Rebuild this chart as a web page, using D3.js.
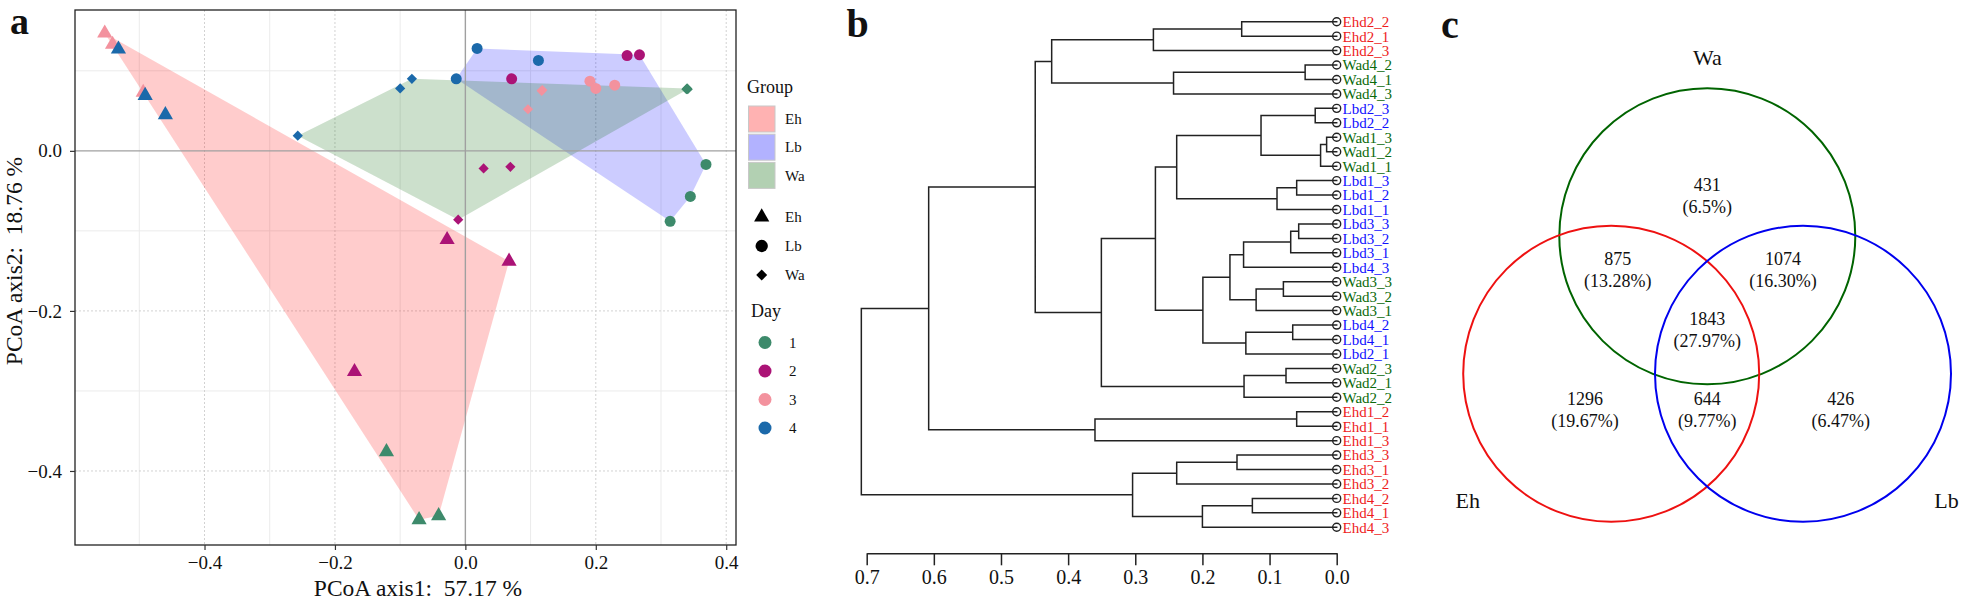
<!DOCTYPE html>
<html><head><meta charset="utf-8">
<script src="https://cdn.jsdelivr.net/npm/d3@7"></script>
<style>
body{margin:0;background:#fff}
svg{display:block}
text{font-family:"Liberation Serif","Times New Roman",serif;fill:#111}
</style>
</head><body>
<svg id="c" width="1966" height="600"></svg>
<script>
// ===================== DATA =====================
// Panel a: PCoA
const groups = ["Eh", "Lb", "Wa"];
const days = ["1", "2", "3", "4"];
const groupColors = ["#ff0000", "#0000ff", "#006400"];
const dayColors = ["#3d8a6b", "#ab1376", "#f3929e", "#1b69aa"];

const pcoaGroup = [
  "Eh","Eh","Eh","Eh","Eh","Eh","Eh","Eh","Eh","Eh","Eh","Eh",
  "Lb","Lb","Lb","Lb","Lb","Lb","Lb","Lb","Lb","Lb","Lb","Lb",
  "Wa","Wa","Wa","Wa","Wa","Wa","Wa","Wa","Wa","Wa","Wa","Wa"
];
const pcoaDay = [
  "1","1","1","2","2","2","3","3","3","4","4","4",
  "1","1","1","2","2","2","3","3","3","4","4","4",
  "1","1","1","2","2","2","3","3","3","4","4","4"
];
const pcoaAxis1 = [
  -0.121, -0.071, -0.041, -0.028, 0.067, -0.170, -0.553, -0.541, -0.494, -0.532, -0.491, -0.460,
  0.369, 0.345, 0.314, 0.071, 0.248, 0.267, 0.191, 0.200, 0.229, 0.018, 0.112, -0.014,
  0.340, 0.341, 0.339, 0.028, 0.069, -0.011, 0.117, 0.096, 0.118, -0.257, -0.100, -0.082
];
const pcoaAxis2 = [
  -0.376, -0.461, -0.456, -0.111, -0.138, -0.276, 0.147, 0.133, 0.073, 0.127, 0.069, 0.045,
  -0.017, -0.057, -0.088, 0.090, 0.119, 0.120, 0.087, 0.078, 0.082, 0.128, 0.113, 0.090,
  0.078, 0.077, 0.077, -0.022, -0.020, -0.086, 0.075, 0.052, 0.076, 0.019, 0.078, 0.090
];
const pcoaXTicks = [-0.4, -0.2, 0.0, 0.2, 0.4];
const pcoaYTicks = [-0.4, -0.2, 0.0];
const pcoaXMinor = [-0.5, -0.3, -0.1, 0.1, 0.3];
const pcoaYMinor = [-0.3, -0.1, 0.1];
const pcoaXLabel = "PCoA axis1:  57.17 %";
const pcoaYLabel = "PCoA axis2:  18.76 %";

// Panel b: dendrogram (leaf order top to bottom) and merges [a, b, height]
const leafOrder = [
  "Ehd2_2","Ehd2_1","Ehd2_3","Wad4_2","Wad4_1","Wad4_3","Lbd2_3","Lbd2_2","Wad1_3",
  "Wad1_2","Wad1_1","Lbd1_3","Lbd1_2","Lbd1_1","Lbd3_3","Lbd3_2","Lbd3_1","Lbd4_3",
  "Wad3_3","Wad3_2","Wad3_1","Lbd4_2","Lbd4_1","Lbd2_1","Wad2_3","Wad2_1","Wad2_2",
  "Ehd1_2","Ehd1_1","Ehd1_3","Ehd3_3","Ehd3_1","Ehd3_2","Ehd4_2","Ehd4_1","Ehd4_3"
];
const merges = [
  ["Ehd2_2","Ehd2_1",0.1415], // m0
  ["m0","Ehd2_3",0.273],      // m1
  ["Wad4_2","Wad4_1",0.047],  // m2
  ["m2","Wad4_3",0.243],      // m3
  ["m1","m3",0.4245],         // m4
  ["Lbd2_3","Lbd2_2",0.032],  // m5
  ["Wad1_3","Wad1_2",0.015],  // m6
  ["m6","Wad1_1",0.024],      // m7
  ["m5","m7",0.1127],         // m8
  ["Lbd1_3","Lbd1_2",0.0596], // m9
  ["m9","Lbd1_1",0.0889],     // m10
  ["m8","m10",0.2383],        // m11
  ["Lbd3_3","Lbd3_2",0.0566], // m12
  ["m12","Lbd3_1",0.0685],    // m13
  ["m13","Lbd4_3",0.1387],    // m14
  ["Wad3_3","Wad3_2",0.0794], // m15
  ["m15","Wad3_1",0.120],     // m16
  ["m14","m16",0.159],        // m17
  ["Lbd4_2","Lbd4_1",0.0655], // m18
  ["m18","Lbd2_1",0.1353],    // m19
  ["m17","m19",0.1993],       // m20
  ["m11","m20",0.270],        // m21
  ["Wad2_3","Wad2_1",0.0755], // m22
  ["m22","Wad2_2",0.138],     // m23
  ["m21","m23",0.3505],       // m24
  ["m4","m24",0.449],         // m25
  ["Ehd1_2","Ehd1_1",0.0596], // m26
  ["m26","Ehd1_3",0.360],     // m27
  ["m25","m27",0.6077],       // m28
  ["Ehd3_3","Ehd3_1",0.1485], // m29
  ["m29","Ehd3_2",0.2383],    // m30
  ["Ehd4_2","Ehd4_1",0.1256], // m31
  ["m31","Ehd4_3",0.200],     // m32
  ["m30","m32",0.304],        // m33
  ["m28","m33",0.708]         // m34 root
];
const dendroTicks = [0.7, 0.6, 0.5, 0.4, 0.3, 0.2, 0.1, 0.0];

// Panel c: Venn
const vennSets = ["Wa", "Eh", "Lb"];
const vennSetColors = ["#006400", "#ee1111", "#0000ee"];
const vennRegions = ["Wa", "Eh&Wa", "Lb&Wa", "Eh&Lb&Wa", "Eh", "Eh&Lb", "Lb"];
const vennCounts = [431, 875, 1074, 1843, 1296, 644, 426];
const vennPercents = ["6.5%", "13.28%", "16.30%", "27.97%", "19.67%", "9.77%", "6.47%"];

// ===================== DRAW =====================
const svg = d3.select("#c");

// ---------- Panel a ----------
const A = {l: 75, r: 736, t: 10, b: 545};
const xA = d3.scaleLinear().domain([-0.5986, 0.415]).range([A.l, A.r]);
const yA = d3.scaleLinear().domain([-0.4925, 0.176]).range([A.b, A.t]);
const gA = svg.append("g");

svg.append("defs").append("clipPath").attr("id", "clipA")
  .append("rect").attr("x", A.l).attr("y", A.t).attr("width", A.r - A.l).attr("height", A.b - A.t);

const grid = gA.append("g");
grid.selectAll(".mx").data(pcoaXMinor).join("line")
  .attr("x1", d => xA(d)).attr("x2", d => xA(d)).attr("y1", A.t).attr("y2", A.b)
  .attr("stroke", "#ebebeb").attr("stroke-width", 1);
grid.selectAll(".my").data(pcoaYMinor).join("line")
  .attr("y1", d => yA(d)).attr("y2", d => yA(d)).attr("x1", A.l).attr("x2", A.r)
  .attr("stroke", "#ebebeb").attr("stroke-width", 1);
grid.selectAll(".Mx").data(pcoaXTicks.filter(d => d !== 0)).join("line")
  .attr("x1", d => xA(d)).attr("x2", d => xA(d)).attr("y1", A.t).attr("y2", A.b)
  .attr("stroke", "#d2d2d2").attr("stroke-width", 1).attr("stroke-dasharray", "2,2");
grid.selectAll(".My").data(pcoaYTicks.filter(d => d !== 0)).join("line")
  .attr("y1", d => yA(d)).attr("y2", d => yA(d)).attr("x1", A.l).attr("x2", A.r)
  .attr("stroke", "#d2d2d2").attr("stroke-width", 1).attr("stroke-dasharray", "2,2");

const pts = pcoaGroup.map((g, i) => ({g, day: pcoaDay[i], x: pcoaAxis1[i], y: pcoaAxis2[i]}));

// hulls
const hullG = gA.append("g").attr("clip-path", "url(#clipA)");
groups.forEach((g, gi) => {
  const hull = d3.polygonHull(pts.filter(p => p.g === g).map(p => [xA(p.x), yA(p.y)]));
  hullG.append("path").attr("d", "M" + hull.join("L") + "Z")
    .attr("fill", groupColors[gi]).attr("fill-opacity", 0.2).attr("stroke", "none");
});

// zero lines
gA.append("line").attr("x1", xA(0)).attr("x2", xA(0)).attr("y1", A.t).attr("y2", A.b)
  .attr("stroke", "#a0a0a0").attr("stroke-width", 1.4);
gA.append("line").attr("y1", yA(0)).attr("y2", yA(0)).attr("x1", A.l).attr("x2", A.r)
  .attr("stroke", "#a0a0a0").attr("stroke-width", 1.4);

// symbols
const shapeFor = {
  Eh: d3.symbol().type(d3.symbolTriangle).size(100)(),
  Lb: d3.symbol().type(d3.symbolCircle).size(95)(),
  Wa: d3.symbol().type(d3.symbolSquare).size(52)()
};
const ptsSorted = days.flatMap(d => pts.filter(p => p.day === d));
gA.append("g").attr("clip-path", "url(#clipA)").selectAll("path").data(ptsSorted).join("path")
  .attr("d", p => shapeFor[p.g])
  .attr("transform", p => `translate(${xA(p.x)},${yA(p.y)})` + (p.g === "Wa" ? " rotate(45)" : ""))
  .attr("fill", p => dayColors[days.indexOf(p.day)]);

// border
gA.append("rect").attr("x", A.l).attr("y", A.t).attr("width", A.r - A.l).attr("height", A.b - A.t)
  .attr("fill", "none").attr("stroke", "#222").attr("stroke-width", 1.3);

// axes
const fmt = d3.format(".1f");
const axX = gA.append("g").attr("transform", `translate(0,${A.b})`)
  .call(d3.axisBottom(xA).tickValues(pcoaXTicks).tickFormat(fmt).tickSize(5).tickPadding(6));
const axY = gA.append("g").attr("transform", `translate(${A.l},0)`)
  .call(d3.axisLeft(yA).tickValues(pcoaYTicks).tickFormat(fmt).tickSize(5).tickPadding(8));
[axX, axY].forEach(ax => {
  ax.select(".domain").remove();
  ax.selectAll(".tick line").attr("stroke", "#333").attr("stroke-width", 1.2);
  ax.selectAll(".tick text").attr("font-size", 19).attr("fill", "#222")
    .style("font-family", '"Liberation Serif","Times New Roman",serif');
});
gA.append("text").attr("x", 418).attr("y", 596).attr("text-anchor", "middle")
  .attr("font-size", 23.5).style("white-space", "pre").text(pcoaXLabel);
gA.append("text").attr("transform", "translate(22,261) rotate(-90)").attr("text-anchor", "middle")
  .attr("font-size", 23.5).style("white-space", "pre").text(pcoaYLabel);

// legend
const lg = gA.append("g");
lg.append("text").attr("x", 747).attr("y", 93).attr("font-size", 18).text("Group");
groups.forEach((g, i) => {
  const y0 = 106 + i * 28.2;
  lg.append("rect").attr("x", 748.5).attr("y", y0).attr("width", 26.5).attr("height", 26)
    .attr("fill", groupColors[i]).attr("fill-opacity", 0.3).attr("stroke", "#c8c8c8").attr("stroke-width", 1);
  lg.append("text").attr("x", 785).attr("y", y0 + 13).attr("dy", "0.35em").attr("font-size", 15).text(g);
});
const legShape = {
  Eh: d3.symbol().type(d3.symbolTriangle).size(100)(),
  Lb: d3.symbol().type(d3.symbolCircle).size(120)(),
  Wa: d3.symbol().type(d3.symbolSquare).size(60)()
};
groups.forEach((g, i) => {
  const y0 = 217 + i * 29;
  lg.append("path").attr("d", legShape[g])
    .attr("transform", `translate(761.7,${y0})` + (g === "Wa" ? " rotate(45)" : "")).attr("fill", "#000");
  lg.append("text").attr("x", 785).attr("y", y0).attr("dy", "0.35em").attr("font-size", 15).text(g);
});
lg.append("text").attr("x", 751).attr("y", 317).attr("font-size", 18).text("Day");
days.forEach((d, i) => {
  const y0 = 342.5 + i * 28.5;
  lg.append("circle").attr("cx", 765).attr("cy", y0).attr("r", 6.5).attr("fill", dayColors[i]);
  lg.append("text").attr("x", 789).attr("y", y0).attr("dy", "0.35em").attr("font-size", 15).text(d);
});

svg.append("text").attr("x", 10).attr("y", 34).attr("font-size", 38).attr("font-weight", "bold").text("a");

// ---------- Panel b ----------
const nodes = {};
leafOrder.forEach(n => nodes[n] = {name: n, h: 0});
merges.forEach((m, i) => {
  nodes["m" + i] = {name: "m" + i, h: m[2], children: [nodes[m[0]], nodes[m[1]]]};
});
const root = d3.hierarchy(nodes["m" + (merges.length - 1)]);
const yB = d3.scalePoint().domain(leafOrder).range([21.7, 527.3]);
const xB = d3.scaleLinear().domain([0.7, 0]).range([866.7, 1336.7]);
root.eachAfter(n => {
  n.py = n.children ? d3.mean(n.children, c => c.py) : yB(n.data.name);
});
const gB = svg.append("g");
const linkPath = [];
root.each(n => {
  if (n.children) {
    n.children.forEach(c => {
      linkPath.push(`M${xB(c.data.h)},${c.py}H${xB(n.data.h)}`);
    });
    linkPath.push(`M${xB(n.data.h)},${n.children[0].py}V${n.children[1].py}`);
  }
});
gB.append("path").attr("d", linkPath.join("")).attr("fill", "none")
  .attr("stroke", "#222").attr("stroke-width", 1.5).attr("stroke-linecap", "square");
gB.selectAll("circle").data(root.leaves()).join("circle")
  .attr("cx", xB(0)).attr("cy", d => d.py).attr("r", 4)
  .attr("fill", "none").attr("stroke", "#222").attr("stroke-width", 1.4);
gB.selectAll("text.leaf").data(root.leaves()).join("text").attr("class", "leaf")
  .attr("x", 1342.5).attr("y", d => d.py).attr("dy", "0.36em").attr("font-size", 15)
  .style("fill", d => d.data.name.startsWith("Wa") ? "#0a6a0a" : (d.data.name.startsWith("Lb") ? "#1010ff" : "#ee1c1c"))
  .text(d => d.data.name);
const axB = gB.append("g").attr("transform", "translate(0,553.3)")
  .call(d3.axisBottom(xB).tickValues(dendroTicks).tickFormat(fmt).tickSize(12).tickSizeOuter(0).tickPadding(4.5));
axB.select(".domain").attr("stroke", "#222").attr("stroke-width", 1.5);
axB.selectAll(".tick line").attr("stroke", "#222").attr("stroke-width", 1.5);
axB.selectAll(".tick text").attr("font-size", 20).attr("fill", "#222")
  .style("font-family", '"Liberation Serif","Times New Roman",serif');

svg.append("text").attr("x", 846.5).attr("y", 37.3).attr("font-size", 40).attr("font-weight", "bold").text("b");

// ---------- Panel c ----------
const gC = svg.append("g");
const vcx = 1707.3, vr = 148;
const vennCircles = [
  {cx: vcx, cy: 236.2},
  {cx: vcx - 96.1, cy: 373.8},
  {cx: vcx + 95.7, cy: 373.8}
];
vennCircles.forEach((c, i) => {
  gC.append("circle").attr("cx", c.cx).attr("cy", c.cy).attr("r", vr)
    .attr("fill", "none").attr("stroke", vennSetColors[i]).attr("stroke-width", 2);
});
const setLabelPos = [[vcx, 57.7], [1467.7, 500], [1946.5, 500]];
vennSets.forEach((s, i) => {
  gC.append("text").attr("x", setLabelPos[i][0]).attr("y", setLabelPos[i][1]).attr("dy", "0.35em")
    .attr("text-anchor", "middle").attr("font-size", 22).text(s);
});
const regionPos = [[vcx, 185], [1617.7, 258.5], [1783, 258.5], [vcx, 319], [1585, 399], [vcx, 399], [1840.8, 399]];
vennRegions.forEach((r, i) => {
  const t = gC.append("text").attr("text-anchor", "middle").attr("font-size", 18);
  t.append("tspan").attr("x", regionPos[i][0]).attr("y", regionPos[i][1]).attr("dy", "0.35em").text(vennCounts[i]);
  t.append("tspan").attr("x", regionPos[i][0]).attr("y", regionPos[i][1] + 22).attr("dy", "0.35em").text("(" + vennPercents[i] + ")");
});
svg.append("text").attr("x", 1441).attr("y", 38).attr("font-size", 40).attr("font-weight", "bold").text("c");
</script>
</body></html>
